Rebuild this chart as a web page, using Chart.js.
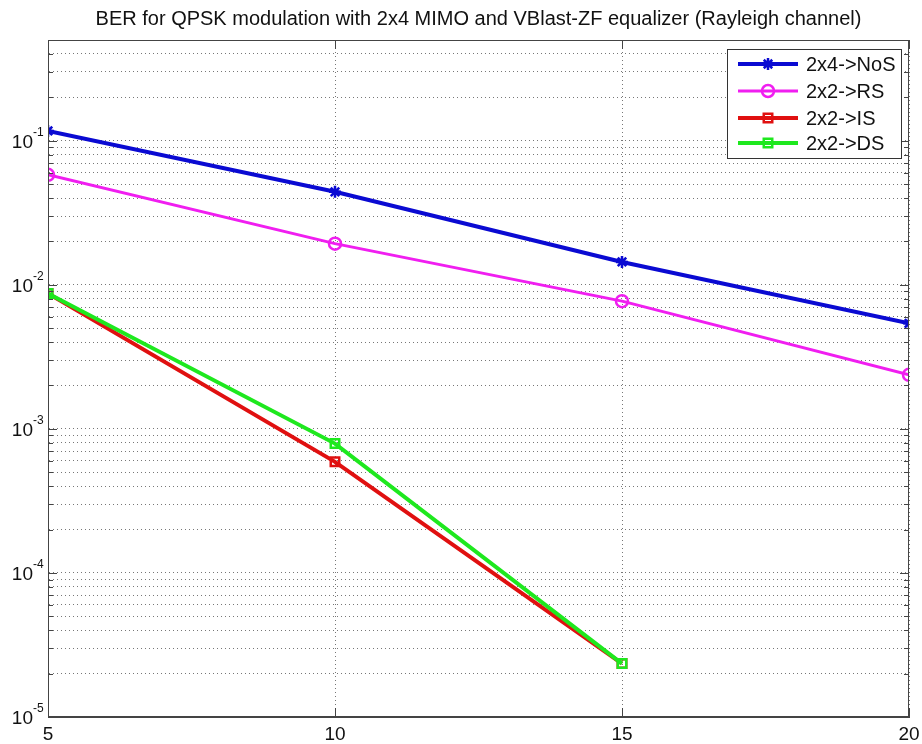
<!DOCTYPE html>
<html lang="en">
<head>
    <meta charset="UTF-8">
    <title>BER for QPSK modulation</title>
    <script src="https://cdn.jsdelivr.net/npm/chart.js"></script>
    <style>
        body { margin: 0; background: #fff; }
        #wrap { width: 922px; height: 744px; }
    </style>
</head>
<body>
    <div id="wrap"><canvas id="berChart" width="922" height="744"></canvas></div>

    <script type="text/javascript">
        // data
        const snrDb = [5, 10, 15, 20];
        const berNoS = [0.117, 0.0442, 0.0144, 0.0054];
        const berRS = [0.058, 0.0193, 0.0077, 0.00237];
        const berIS = [0.0087, 0.00059, 2.35e-5, null];
        const berDS = [0.0087, 0.00079, 2.35e-5, null];
        const seriesLabels = ['2x4->NoS', '2x2->RS', '2x2->IS', '2x2->DS'];
        const xTicks = [5, 10, 15, 20];
        const yDecades = [-5, -4, -3, -2, -1];
        const yMin = 1e-5;
        const yMax = 0.5;
        const titleText = 'BER for QPSK modulation with 2x4 MIMO and VBlast-ZF equalizer (Rayleigh channel)';

        // all grid values: 1..9 x 10^n inside the range
        var yGrid = [];
        for (var e = -5; e <= -1; e++) {
            for (var k = 1; k <= 9; k++) {
                var v = k * Math.pow(10, e);
                if (v >= yMin * 0.999 && v <= yMax * 1.001) yGrid.push(v);
            }
        }

        function series(label, ys, color, width, style, radius, order) {
            return {
                label: label,
                data: ys.map(function (y, i) { return { x: snrDb[i], y: y }; }),
                borderColor: color,
                backgroundColor: color,
                borderWidth: width,
                pointStyle: style,
                pointRadius: radius,
                pointBorderWidth: 2.5,
                pointBackgroundColor: 'rgba(0,0,0,0)',
                pointBorderColor: color,
                order: order,
                spanGaps: false
            };
        }

        var datasets = [
            series(seriesLabels[0], berNoS, '#0a0ad2', 4, 'star', 6, 1),
            series(seriesLabels[1], berRS, '#f01ef0', 3, 'circle', 6, 2),
            series(seriesLabels[2], berIS, '#e01010', 4, 'rect', 6, 4),
            series(seriesLabels[3], berDS, '#1ee81e', 4, 'rect', 6, 3)
        ];

        // box, inner ticks, labels, title, legend
        var decorPlugin = {
            id: 'decor',
            afterDraw: function (chart) {
                var ctx = chart.ctx;
                var a = chart.chartArea;
                var xs = chart.scales.x;
                var ys = chart.scales.y;
                ctx.save();

                // axes box
                ctx.strokeStyle = '#444';
                ctx.lineWidth = 1;
                ctx.strokeRect(a.left + 0.5, a.top + 0.5, a.right - a.left - 1, a.bottom - a.top - 1);

                // inner tick marks
                ctx.beginPath();
                yGrid.forEach(function (v) {
                    var py = Math.round(ys.getPixelForValue(v)) + 0.5;
                    var major = Math.abs(Math.log10(v) - Math.round(Math.log10(v))) < 1e-6;
                    var len = major ? 9 : 5;
                    ctx.moveTo(a.left, py); ctx.lineTo(a.left + len, py);
                    ctx.moveTo(a.right, py); ctx.lineTo(a.right - len, py);
                });
                xTicks.forEach(function (t) {
                    var px = Math.round(xs.getPixelForValue(t)) + 0.5;
                    ctx.moveTo(px, a.bottom); ctx.lineTo(px, a.bottom - 9);
                    ctx.moveTo(px, a.top); ctx.lineTo(px, a.top + 9);
                });
                ctx.stroke();

                // tick labels
                ctx.fillStyle = '#111';
                ctx.textBaseline = 'alphabetic';
                ctx.textAlign = 'center';
                ctx.font = '19px Arial, "Liberation Sans", sans-serif';
                xTicks.forEach(function (t) {
                    ctx.fillText(String(t), xs.getPixelForValue(t), a.bottom + 23);
                });
                yDecades.forEach(function (d) {
                    var py = ys.getPixelForValue(Math.pow(10, d));
                    ctx.font = '19px Arial, "Liberation Sans", sans-serif';
                    ctx.textAlign = 'right';
                    ctx.fillText('10', 33, py + 7);
                    ctx.font = '12px Arial, "Liberation Sans", sans-serif';
                    ctx.textAlign = 'left';
                    ctx.fillText(String(d), 33, py - 5);
                });

                // title
                ctx.font = '20px Arial, "Liberation Sans", sans-serif';
                ctx.textAlign = 'center';
                ctx.fillText(titleText, (a.left + a.right) / 2, 25);

                // legend
                var lx = 727, ly = 49, lw = 174, lh = 109;
                ctx.fillStyle = '#fff';
                ctx.fillRect(lx, ly, lw, lh);
                ctx.strokeStyle = '#333';
                ctx.lineWidth = 1;
                ctx.strokeRect(lx + 0.5, ly + 0.5, lw, lh);
                var rows = [64, 91, 118, 143];
                chart.data.datasets.forEach(function (ds, i) {
                    var cy = rows[i];
                    ctx.strokeStyle = ds.borderColor;
                    ctx.lineWidth = ds.borderWidth;
                    ctx.beginPath();
                    ctx.moveTo(738, cy); ctx.lineTo(798, cy);
                    ctx.stroke();
                    ctx.lineWidth = ds.pointBorderWidth;
                    ctx.fillStyle = 'rgba(0,0,0,0)';
                    Chart.helpers.drawPoint(ctx, {
                        pointStyle: ds.pointStyle, radius: ds.pointRadius, rotation: 0, borderWidth: ds.pointBorderWidth
                    }, 768, cy);
                    ctx.fillStyle = '#111';
                    ctx.font = '20px Arial, "Liberation Sans", sans-serif';
                    ctx.textAlign = 'left';
                    ctx.fillText(ds.label, 806, cy + 7);
                });
                ctx.restore();
            }
        };

        var ctx = document.getElementById('berChart').getContext('2d');
        new Chart(ctx, {
            type: 'line',
            data: { datasets: datasets },
            plugins: [decorPlugin],
            options: {
                responsive: false,
                animation: false,
                layout: { padding: { left: 48, top: 40, right: 13, bottom: 27 } },
                plugins: { legend: { display: false }, title: { display: false }, tooltip: { enabled: false } },
                scales: {
                    x: {
                        type: 'linear', min: 5, max: 20,
                        afterBuildTicks: function (s) { s.ticks = xTicks.map(function (v) { return { value: v }; }); },
                        ticks: { display: false },
                        grid: { color: '#777', lineWidth: 1, drawTicks: false },
                        border: { display: true, color: '#444', dash: [1, 3] }
                    },
                    y: {
                        type: 'logarithmic', min: yMin, max: yMax,
                        afterBuildTicks: function (s) { s.ticks = yGrid.map(function (v) { return { value: v }; }); },
                        ticks: { display: false },
                        grid: { color: '#777', lineWidth: 1, drawTicks: false },
                        border: { display: true, color: '#444', dash: [1, 3] }
                    }
                }
            }
        });
    </script>
</body>
</html>
